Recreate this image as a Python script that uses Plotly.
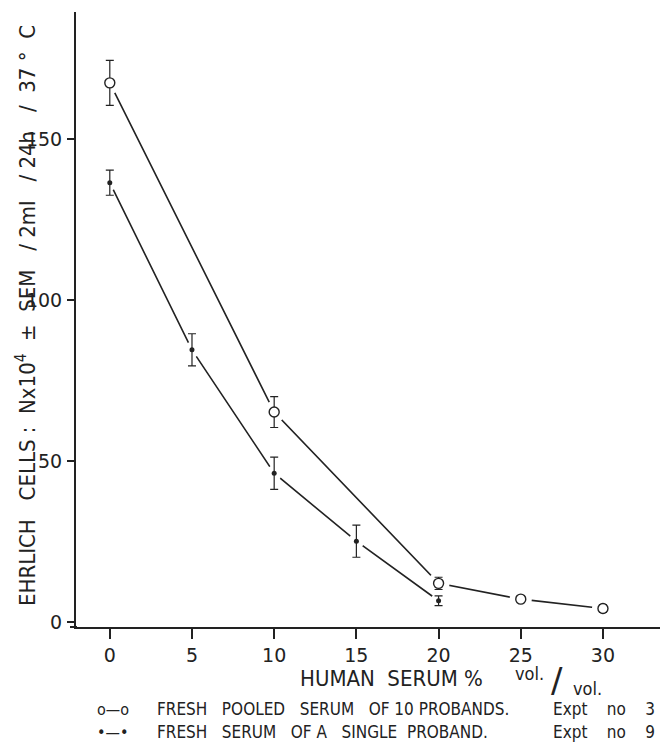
import plotly.graph_objects as go

# ---- data ----
serum_pooled_x = [0, 10, 20, 25, 30]
serum_pooled_y = [167.4, 65.2, 12.0, 7.1, 4.2]
serum_pooled_err = [7.0, 4.8, 1.9, 1.0, 1.2]

serum_single_x = [0, 5, 10, 15, 20]
serum_single_y = [136.4, 84.5, 46.2, 25.1, 6.6]
serum_single_err = [3.9, 5.0, 5.0, 5.0, 1.5]

x_ticks = [0, 5, 10, 15, 20, 25, 30]
y_ticks = [0, 50, 100, 150]

INK = "#222222"
FONT = "DejaVu Sans"
CFONT = "DejaVu Sans Condensed, Liberation Sans Narrow, DejaVu Sans"

W, H = 660, 742
L, R, T, B = 76, 0, 12, 115
PW, PH = W - L - R, H - T - B


def px(x):
    return (x - L) / PW


def py(y):
    return (H - B - y) / PH


fig = go.Figure()

for xs, ys, halo in [(serum_pooled_x, serum_pooled_y, 22), (serum_single_x, serum_single_y, 16)]:
    fig.add_trace(go.Scatter(x=xs, y=ys, mode="lines",
                             line=dict(color=INK, width=1.6), hoverinfo="skip"))
    fig.add_trace(go.Scatter(x=xs, y=ys, mode="markers",
                             marker=dict(color="white", size=halo, line=dict(width=0), opacity=1),
                             hoverinfo="skip"))

fig.add_trace(go.Scatter(
    x=serum_pooled_x, y=serum_pooled_y, mode="markers",
    marker=dict(symbol="circle", size=10, color="white", line=dict(color=INK, width=1.4)),
    error_y=dict(type="data", array=serum_pooled_err, color=INK, thickness=1.2, width=4),
))
fig.add_trace(go.Scatter(
    x=serum_single_x, y=serum_single_y, mode="markers",
    marker=dict(symbol="circle", size=5, color=INK),
    error_y=dict(type="data", array=serum_single_err, color=INK, thickness=1.2, width=4),
))

fig.update_layout(
    width=W, height=H,
    margin=dict(l=L, r=R, t=T, b=B, pad=0),
    paper_bgcolor="white", plot_bgcolor="white",
    showlegend=False,
    font=dict(family=FONT, color=INK),
    xaxis=dict(range=[-2.056, 33.47], tickvals=x_ticks, ticktext=[str(v) for v in x_ticks],
               showline=True, linecolor=INK, linewidth=2, showgrid=False, zeroline=False,
               ticks="outside", ticklen=10, tickwidth=1.5, tickcolor=INK,
               tickfont=dict(size=19, family=FONT, color=INK)),
    yaxis=dict(range=[-1.55, 189.4], tickvals=y_ticks, ticktext=[str(v) for v in y_ticks],
               showline=True, linecolor=INK, linewidth=2, showgrid=False, zeroline=False,
               ticks="outside", ticklen=7, tickwidth=1.5, tickcolor=INK,
               ticklabelstandoff=1,
               tickfont=dict(size=19, family=FONT, color=INK)),
    shapes=[dict(type="line", xref="paper", yref="paper", x0=px(70), x1=px(77), y0=0, y1=0,
                 line=dict(color=INK, width=2))],
)

ann = []


def add(text, x, y, size, anchor="center", angle=0, font=CFONT):
    ann.append(dict(text=text, x=px(x), y=py(y), xref="paper", yref="paper",
                    textangle=angle, showarrow=False,
                    font=dict(size=size, family=font, color=INK),
                    xanchor=anchor, yanchor="middle"))


add("EHRLICH   CELLS :  Nx10<sup>4</sup>  ±  SEM   / 2ml   / 24h   /  37 °  C", 26, 316, 22, angle=-90)
add("HUMAN  SERUM %", 391, 678, 22)
add("vol.", 529, 673, 18)
add("/", 557, 680, 34, font=FONT)
add("vol.", 587, 688, 18)

rows = [
    ("o—o", "FRESH   POOLED   SERUM   OF 10 PROBANDS.", "Expt    no    3", 709),
    ("•—•", "FRESH   SERUM   OF A   SINGLE  PROBAND.", "Expt    no    9", 732),
]
for sym, label, expt, yy in rows:
    add(sym, 95, yy, 16, anchor="left")
    add(label, 155, yy, 17, anchor="left")
    add(expt, 657, yy, 17, anchor="right")

fig.update_layout(annotations=ann)
fig.write_html("out.html", config={"displayModeBar": False},
               post_script="document.body.style.margin='0';document.body.style.overflow='hidden';")
